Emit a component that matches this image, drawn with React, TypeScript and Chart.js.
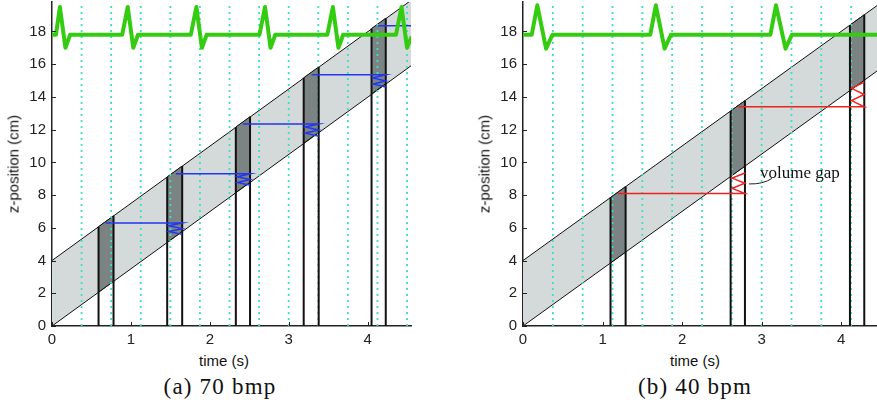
import { useEffect, useRef } from "react";
import { Chart, registerables } from "chart.js";

Chart.register(...registerables);

// Slice acquisition grid (s), shared by both panels
const sliceTimes = [0.375, 0.75, 1.125, 1.5, 1.875, 2.25, 2.625, 3.0, 3.375, 3.75, 4.125, 4.5];

// ---------- (a) 70 bpm ----------
const ecgTimeA = [0, 0.05, 0.1, 0.17, 0.23, 0.89, 0.96, 1.03, 1.09, 1.76, 1.83, 1.9, 1.96, 2.63, 2.7, 2.77, 2.83, 3.49, 3.56, 3.63, 3.69, 4.36, 4.43, 4.5, 4.55];
const ecgZA = [17.8, 17.8, 19.5, 17.0, 17.8, 17.8, 19.5, 17.0, 17.8, 17.8, 19.5, 17.0, 17.8, 17.8, 19.5, 17.0, 17.8, 17.8, 19.5, 17.0, 17.8, 17.8, 19.5, 17.0, 17.6];

const bandTimeA = [0, 4.55];
const bandLowA = [0, 15.9];
const bandHighA = [4, 19.9];

const stripStartA = [0.59, 1.46, 2.33, 3.19, 4.05];
const stripEndA = [0.78, 1.65, 2.51, 3.38, 4.23];
const stripLowStartA = [2.07, 5.11, 8.16, 11.17, 14.18];
const stripLowEndA = [2.73, 5.78, 8.79, 11.83, 14.81];
const stripHighStartA = [6.07, 9.11, 12.16, 15.17, 18.18];
const stripHighEndA = [6.73, 9.78, 12.79, 15.83, 18.81];

// slab top carried to the next window (overlap)
const linkLevelA = [6.3, 9.3, 12.35, 15.35, 18.35];
const linkFromA = [0.68, 1.57, 2.42, 3.29, 4.13];
const linkToA = [1.65, 2.51, 3.38, 4.23, 4.55];
const linkEndA = [5.6, 8.6, 11.6, 14.6];

// ---------- (b) 40 bpm ----------
const ecgTimeB = [0, 0.11, 0.18, 0.29, 0.37, 1.6, 1.67, 1.78, 1.86, 3.11, 3.18, 3.3, 3.38, 4.45];
const ecgZB = [17.8, 17.8, 19.6, 16.95, 17.8, 17.8, 19.6, 16.95, 17.8, 17.8, 19.6, 16.95, 17.8, 17.8];

const bandTimeB = [0, 4.45];
const bandLowB = [0, 15.58];
const bandHighB = [4, 19.58];

const stripStartB = [1.1, 2.61, 4.11];
const stripEndB = [1.29, 2.79, 4.29];
const stripLowStartB = [3.85, 9.14, 14.39];
const stripLowEndB = [4.52, 9.77, 15.02];
const stripHighStartB = [7.85, 13.14, 18.39];
const stripHighEndB = [8.52, 13.77, 19.02];

// slab top carried to the next window (gap)
const linkLevelB = [8.1, 13.4];
const linkFromB = [1.19, 2.71];
const linkToB = [2.79, 4.29];
const linkEndB = [9.35, 14.9];

const gapNoteText = "volume gap";
const gapNoteAt = [2.98, 9.05];
const gapLeader = [
  [2.84, 8.68],
  [3.02, 8.66],
  [3.13, 9.02],
];

const Y_MAX = 19.8;
const BLACK = "#111";
const BAND = "#d3dad9";
const STRIP = "#7b8483";
const CYAN = "#3fe0c0";
const GREEN = "#33cc11";

type Panel = {
  xMax: number;
  ecgTime: number[];
  ecgZ: number[];
  bandTime: number[];
  bandLow: number[];
  bandHigh: number[];
  closeBand: boolean;
  stripStart: number[];
  stripEnd: number[];
  stripLowStart: number[];
  stripLowEnd: number[];
  stripHighStart: number[];
  stripHighEnd: number[];
  linkLevel: number[];
  linkFrom: number[];
  linkTo: number[];
  linkEnd: number[];
  linkColor: string;
};

function buildDatasets(p: Panel) {
  const ds: any[] = [];
  const add = (d: any) => {
    ds.push({
      pointRadius: 0,
      pointHoverRadius: 0,
      tension: 0,
      spanGaps: false,
      fill: false,
      ...d,
    });
    return ds.length - 1;
  };

  // table-motion band
  const low = add({
    data: p.bandTime.map((t, i) => ({ x: t, y: p.bandLow[i] })),
    borderColor: BLACK,
    borderWidth: 1,
    order: 6,
  });
  add({
    data: p.bandTime.map((t, i) => ({ x: t, y: p.bandHigh[i] })),
    borderColor: BLACK,
    borderWidth: 1,
    order: 6,
    fill: { target: low },
    backgroundColor: BAND,
  });
  if (p.closeBand) {
    const n = p.bandTime.length - 1;
    add({
      data: [
        { x: p.bandTime[n], y: p.bandLow[n] },
        { x: p.bandTime[n], y: p.bandHigh[n] },
      ],
      borderColor: BLACK,
      borderWidth: 1,
      order: 6,
    });
  }

  // acquisition windows
  p.stripStart.forEach((t0, k) => {
    const t1 = p.stripEnd[k];
    const li = add({
      data: [
        { x: t0, y: p.stripLowStart[k] },
        { x: t1, y: p.stripLowEnd[k] },
      ],
      borderColor: BLACK,
      borderWidth: 1,
      order: 5,
    });
    add({
      data: [
        { x: t0, y: p.stripHighStart[k] },
        { x: t1, y: p.stripHighEnd[k] },
      ],
      borderColor: BLACK,
      borderWidth: 1,
      order: 5,
      fill: { target: li },
      backgroundColor: STRIP,
    });
  });

  // slice grid
  const dots: any[] = [];
  sliceTimes.forEach((t) => dots.push({ x: t, y: 0 }, { x: t, y: Y_MAX }, { x: t, y: null }));
  add({ data: dots, borderColor: CYAN, borderWidth: 1.8, borderDash: [2, 4], order: 4 });

  // window edges
  const edges: any[] = [];
  p.stripStart.forEach((t0, k) => {
    const t1 = p.stripEnd[k];
    edges.push(
      { x: t0, y: 0 },
      { x: t0, y: p.stripHighStart[k] },
      { x: t0, y: null },
      { x: t1, y: 0 },
      { x: t1, y: p.stripHighEnd[k] },
      { x: t1, y: null }
    );
  });
  add({ data: edges, borderColor: BLACK, borderWidth: 2, order: 3 });

  // slab links with zigzag into the next window
  const links: any[] = [];
  p.linkLevel.forEach((lvl, k) => {
    links.push({ x: p.linkFrom[k], y: lvl }, { x: p.linkTo[k], y: lvl });
    if (k < p.linkEnd.length) {
      const left = p.stripStart[k + 1] + 0.02;
      const right = p.linkTo[k];
      const end = p.linkEnd[k];
      const steps = 4;
      for (let i = 1; i <= steps; i++) {
        links.push({ x: i % 2 ? left : right, y: lvl + ((end - lvl) * i) / steps });
      }
    }
    links.push({ x: p.linkTo[k], y: null });
  });
  add({ data: links, borderColor: p.linkColor, borderWidth: 1.5, order: 2 });

  // ECG trace
  add({
    data: p.ecgTime.map((t, i) => ({ x: t, y: p.ecgZ[i] })),
    borderColor: GREEN,
    borderWidth: 4,
    borderJoinStyle: "round",
    borderCapStyle: "round",
    order: 1,
  });
  return ds;
}

const inwardTicks = {
  id: "inwardTicks",
  afterDraw(chart: any) {
    const { ctx, chartArea, scales } = chart;
    ctx.save();
    ctx.strokeStyle = "#222";
    ctx.lineWidth = 1;
    scales.x.ticks.forEach((tk: any) => {
      const px = Math.round(scales.x.getPixelForValue(tk.value)) + 0.5;
      ctx.beginPath();
      ctx.moveTo(px, chartArea.bottom);
      ctx.lineTo(px, chartArea.bottom - 4);
      ctx.stroke();
    });
    scales.y.ticks.forEach((tk: any) => {
      const py = Math.round(scales.y.getPixelForValue(tk.value)) + 0.5;
      ctx.beginPath();
      ctx.moveTo(chartArea.left, py);
      ctx.lineTo(chartArea.left + 4, py);
      ctx.stroke();
    });
    ctx.restore();
  },
};

const gapNote = {
  id: "gapNote",
  afterDatasetsDraw(chart: any) {
    const { ctx, scales } = chart;
    const px = (v: number) => scales.x.getPixelForValue(v);
    const py = (v: number) => scales.y.getPixelForValue(v);
    ctx.save();
    ctx.font = '17px "Liberation Serif"';
    ctx.fillStyle = "#111";
    ctx.textBaseline = "alphabetic";
    ctx.fillText(gapNoteText, px(gapNoteAt[0]), py(gapNoteAt[1]));
    ctx.strokeStyle = "#222";
    ctx.lineWidth = 1;
    ctx.beginPath();
    ctx.moveTo(px(gapLeader[0][0]), py(gapLeader[0][1]));
    ctx.quadraticCurveTo(px(gapLeader[1][0]), py(gapLeader[1][1]), px(gapLeader[2][0]), py(gapLeader[2][1]));
    ctx.stroke();
    ctx.restore();
  },
};

// keep the plot box fixed: no label-overflow padding from the axes
const noScalePadding = (s: any) => {
  s.paddingTop = 0;
  s.paddingBottom = 0;
  s.paddingLeft = 0;
  s.paddingRight = 0;
};

function makeConfig(p: Panel, yWidth: number, padRight: number, extra: any[]): any {
  const tickFont = { family: '"Liberation Sans", Arial, sans-serif', size: 15 };
  return {
    type: "line",
    data: { datasets: buildDatasets(p) },
    options: {
      animation: false,
      responsive: false,
      events: [],
      layout: { autoPadding: false, padding: { top: 2, right: padRight, left: 0, bottom: 0 } },
      plugins: { legend: { display: false }, tooltip: { enabled: false } },
      scales: {
        x: {
          type: "linear",
          min: 0,
          max: p.xMax,
          z: 1,
          grid: { display: false, drawTicks: false },
          border: { display: true, color: "#222", width: 1.5 },
          ticks: { stepSize: 1, includeBounds: false, color: "#222", font: tickFont, padding: 5, maxRotation: 0 },
          afterFit: (s: any) => {
            s.height = 24;
            noScalePadding(s);
          },
        },
        y: {
          type: "linear",
          min: 0,
          max: Y_MAX,
          z: 1,
          grid: { display: false, drawTicks: false },
          border: { display: true, color: "#222", width: 1.5 },
          ticks: { stepSize: 2, includeBounds: false, color: "#222", font: tickFont, padding: 6 },
          afterFit: (s: any) => {
            s.width = yWidth;
            noScalePadding(s);
          },
        },
      },
    },
    plugins: [inwardTicks, ...extra],
  };
}

const panelA: Panel = {
  xMax: 4.55,
  ecgTime: ecgTimeA,
  ecgZ: ecgZA,
  bandTime: bandTimeA,
  bandLow: bandLowA,
  bandHigh: bandHighA,
  closeBand: true,
  stripStart: stripStartA,
  stripEnd: stripEndA,
  stripLowStart: stripLowStartA,
  stripLowEnd: stripLowEndA,
  stripHighStart: stripHighStartA,
  stripHighEnd: stripHighEndA,
  linkLevel: linkLevelA,
  linkFrom: linkFromA,
  linkTo: linkToA,
  linkEnd: linkEndA,
  linkColor: "#2436ee",
};

const panelB: Panel = {
  xMax: 4.45,
  ecgTime: ecgTimeB,
  ecgZ: ecgZB,
  bandTime: bandTimeB,
  bandLow: bandLowB,
  bandHigh: bandHighB,
  closeBand: false,
  stripStart: stripStartB,
  stripEnd: stripEndB,
  stripLowStart: stripLowStartB,
  stripLowEnd: stripLowEndB,
  stripHighStart: stripHighStartB,
  stripHighEnd: stripHighEndB,
  linkLevel: linkLevelB,
  linkFrom: linkFromB,
  linkTo: linkToB,
  linkEnd: linkEndB,
  linkColor: "#ee2020",
};

const sans = '"Liberation Sans", Arial, sans-serif';
const serif = '"Liberation Serif", "Times New Roman", serif';

function Label(props: { x: number; y: number; text: string; rotate?: boolean; font: string; size: number; spacing?: number }) {
  return (
    <div
      style={{
        position: "absolute",
        left: props.x,
        top: props.y,
        transform: `translate(-50%, -50%)${props.rotate ? " rotate(-90deg)" : ""}`,
        whiteSpace: "nowrap",
        fontFamily: props.font,
        fontSize: props.size,
        letterSpacing: props.spacing ?? 0,
        color: "#111",
        lineHeight: 1,
      }}
    >
      {props.text}
    </div>
  );
}

export default function App() {
  const refA = useRef<HTMLCanvasElement>(null);
  const refB = useRef<HTMLCanvasElement>(null);

  useEffect(() => {
    const a = new Chart(refA.current!, makeConfig(panelA, 52, 19, []));
    const b = new Chart(refB.current!, makeConfig(panelB, 53, 0, [gapNote]));
    return () => {
      a.destroy();
      b.destroy();
    };
  }, []);

  return (
    <div style={{ position: "absolute", left: 0, top: 0, width: 877, height: 411, background: "#fff", overflow: "hidden" }}>
      <canvas ref={refA} width={430} height={350} style={{ position: "absolute", left: 0, top: 0 }} />
      <canvas ref={refB} width={407} height={350} style={{ position: "absolute", left: 470, top: 0 }} />
      <Label x={12.5} y={164} text="z-position (cm)" rotate font={sans} size={15} />
      <Label x={484} y={164} text="z-position (cm)" rotate font={sans} size={15} />
      <Label x={224} y={360} text="time (s)" font={sans} size={15} />
      <Label x={695} y={360} text="time (s)" font={sans} size={15} />
      <Label x={220} y={386} text="(a) 70 bmp" font={serif} size={23} spacing={1.2} />
      <Label x={695} y={386} text="(b) 40 bpm" font={serif} size={23} spacing={1.2} />
    </div>
  );
}
